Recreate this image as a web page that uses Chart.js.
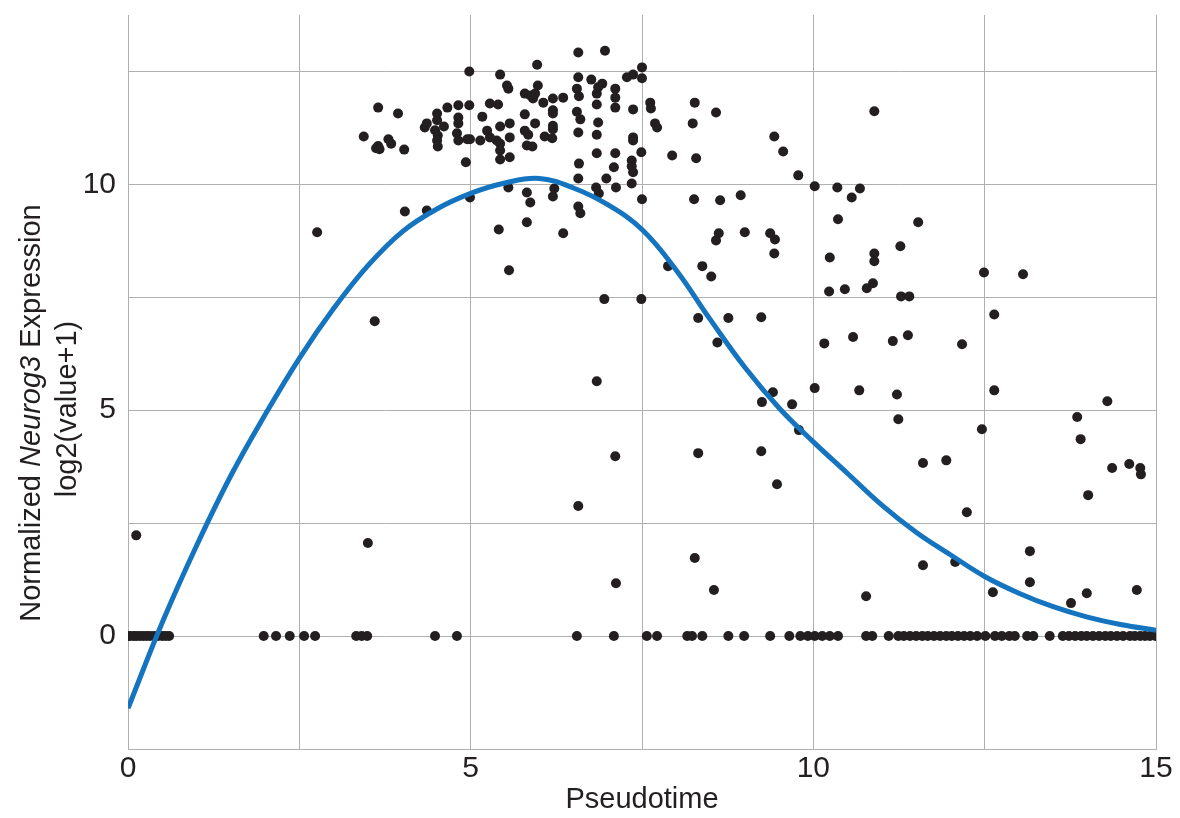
<!DOCTYPE html>
<html>
<head>
<meta charset="utf-8">
<script src="https://cdn.jsdelivr.net/npm/chart.js@4.4.1/dist/chart.umd.min.js"></script>
<style>
  html, body { margin: 0; padding: 0; background: #ffffff; }
  #wrap { width: 1180px; height: 818px; position: relative; }
</style>
</head>
<body>
<div id="wrap"><canvas id="c" width="1180" height="818"></canvas></div>
<script>
// ---- data ----
// cells with zero expression (y = 0), pseudotime values
const zeroX = [0, 0.03, 0.08, 0.12, 0.17, 0.22, 0.27, 0.32, 0.38, 0.44, 0.5, 0.55, 0.6,
  1.98, 2.16, 2.36, 2.57, 2.73, 3.33, 3.41, 3.49, 4.48, 4.80, 6.55, 7.09, 7.57, 7.72,
  8.16, 8.23, 8.38, 8.76, 8.99, 9.37, 9.65, 9.81, 9.92, 10.02, 10.13, 10.24, 10.36,
  10.77, 10.86, 11.10, 11.24, 11.32, 11.41, 11.50, 11.59, 11.67, 11.76, 11.85, 11.94,
  12.02, 12.11, 12.20, 12.29, 12.39, 12.51, 12.65, 12.75, 12.86, 12.94, 13.12, 13.21,
  13.45, 13.64, 13.73, 13.82, 13.91, 13.99, 14.08, 14.17, 14.26, 14.34, 14.43, 14.52,
  14.62, 14.69, 14.77, 14.84, 14.91, 14.99];

// cells with non-zero expression
const ptX = [0.12, 2.76, 3.5, 3.6, 3.44, 3.65, 3.94, 3.65, 3.62, 3.67, 3.80, 3.84, 4.03, 4.04, 4.36,
  4.36, 4.33, 4.51, 4.51, 4.48, 4.52, 4.51, 4.52, 4.61, 4.66, 4.82, 4.82, 4.82, 4.80, 4.82,
  4.93, 4.95, 4.99, 4.98, 4.98, 4.99, 5.14, 5.17, 5.24, 5.28, 5.38, 5.43, 5.28, 5.40, 5.43,
  5.53, 5.55, 5.43, 5.57, 5.57, 5.43, 5.43, 5.57, 5.41, 5.56, 5.55, 5.79, 5.87, 5.91, 5.94,
  5.97, 5.79, 5.79, 5.84, 5.82, 5.90, 5.94, 5.82, 5.87, 5.82, 5.98, 6.06, 6.20, 6.35, 6.20,
  6.20, 6.20, 6.20, 6.08, 6.19, 6.22, 6.20, 6.35, 6.57, 6.96, 6.57, 6.76, 6.92, 6.86, 6.55,
  6.58, 6.84, 7.11, 7.11, 7.11, 6.84, 6.55, 6.60, 6.86, 6.57, 6.84, 6.84, 7.11, 6.58, 7.09,
  6.57, 6.98, 6.83, 6.87, 7.12, 6.57, 6.60, 6.57, 6.84, 6.95, 7.11, 7.12, 7.50, 7.28, 7.37,
  7.50, 7.37, 7.62, 7.63, 7.69, 7.72, 7.37, 7.37, 7.49, 7.35, 7.35, 7.37, 7.35, 7.50, 7.49,
  7.94, 7.88, 8.27, 8.24, 8.58, 8.29, 8.26, 8.64, 8.94, 8.62, 8.58, 9.0, 8.38, 8.51, 8.32,
  8.76, 8.60, 8.27, 8.32, 8.55, 9.24, 9.37, 9.44, 9.43, 9.43, 9.56, 9.78, 9.41, 9.25, 9.69,
  9.24, 9.47, 9.79, 10.02, 10.35, 10.68, 10.56, 10.36, 10.89, 10.24, 10.89, 10.89, 10.23,
  10.46, 10.78, 10.87, 10.16, 10.58, 10.02, 10.67, 10.77, 11.27, 11.53, 11.28, 11.40, 11.38,
  11.16, 11.22, 11.24, 11.60, 11.94, 11.60, 12.07, 12.17, 12.24, 12.46, 12.49, 12.64, 12.64,
  12.62, 13.06, 13.16, 13.16, 13.76, 13.85, 13.90, 13.99, 14.01, 14.29, 14.36, 14.61, 14.77,
  14.78, 14.72];
const ptY = [2.23, 8.94, 2.06, 6.97, 11.06, 11.70, 11.57, 10.85, 10.80, 10.78, 11.0, 10.9, 10.77, 9.40, 9.42,
  11.35, 11.26, 11.57, 11.42, 11.2, 11.08, 10.97, 10.84, 11.28, 11.70, 11.75, 11.48, 11.35, 11.13, 10.97,
  10.49, 11.0, 11.0, 12.50, 11.75, 9.71, 10.97, 11.50, 11.19, 11.04, 10.97, 10.9, 11.79, 11.77, 12.43,
  12.19, 12.12, 11.28, 11.35, 11.04, 10.75, 10.55, 10.6, 9.0, 8.1, 9.93, 12.01, 11.97, 11.9, 12.01,
  12.65, 11.55, 11.19, 11.1, 10.86, 10.84, 11.35, 9.82, 9.6, 9.16, 12.19, 11.81, 11.90, 11.92, 11.64,
  11.57, 11.3, 11.22, 11.06, 11.02, 9.91, 9.73, 8.92, 12.92, 12.96, 12.37, 12.32, 12.23, 12.15, 12.12,
  11.95, 12.01, 12.12, 11.92, 11.70, 11.77, 11.61, 11.44, 11.37, 11.15, 11.10, 10.69, 10.69, 10.46, 10.38,
  10.13, 10.13, 9.93, 9.80, 9.93, 9.51, 9.36, 2.88, 5.64, 7.46, 3.98, 1.17, 12.59, 12.37, 12.43,
  12.35, 11.66, 11.81, 11.68, 11.35, 11.26, 11.04, 10.97, 10.71, 10.53, 10.4, 10.27, 10.02, 9.67, 7.46,
  10.64, 8.19, 11.81, 11.35, 11.59, 10.58, 9.67, 9.65, 9.76, 8.92, 8.76, 8.94, 8.19, 7.96, 7.04,
  7.04, 6.50, 1.73, 4.05, 1.02, 7.06, 8.92, 8.78, 8.47, 11.06, 10.73, 10.20, 5.40, 5.18, 5.13,
  4.09, 3.36, 4.56, 9.96, 9.93, 9.91, 9.71, 9.23, 11.62, 8.38, 8.47, 8.30, 7.63,
  7.68, 7.70, 7.81, 6.48, 6.62, 5.49, 5.44, 0.88, 8.63, 9.16, 7.52, 7.52, 6.66,
  6.53, 5.35, 4.80, 3.83, 3.89, 1.57, 1.64, 6.46, 2.74, 4.58, 8.05, 7.12, 5.44,
  0.97, 8.01, 1.88, 1.19, 0.73, 4.85, 4.36, 0.95, 3.12, 5.20, 3.72, 3.81, 3.72,
  3.58, 1.02];

// fitted trend curve
const curveX = [0, 0.5, 1, 1.5, 2, 2.5, 3, 3.5, 4, 4.5, 5, 5.5, 6, 6.5, 7, 7.5, 8, 8.5, 9, 9.5,
  10, 10.5, 11, 11.5, 12, 12.5, 13, 13.5, 14, 14.5, 15];
const curveY = [-1.6, 0.3, 2.0, 3.55, 4.9, 6.15, 7.25, 8.2, 8.95, 9.45, 9.8, 10.03, 10.13, 9.92, 9.55, 9.0,
  8.1, 7.0, 5.95, 5.05, 4.3, 3.6, 2.9, 2.3, 1.8, 1.32, 0.95, 0.65, 0.42, 0.25, 0.13];

// labelled ticks
const xTickLabels = [0, 5, 10, 15];
const yTickLabels = [0, 5, 10];

// ---- chart ----
const FONT = "'Liberation Sans', Arial, Helvetica, sans-serif";
const TEXT = '#231f20';
const GRID = '#b0b0b0';

const scatterData = zeroX.map(x => ({ x: x, y: 0 }))
  .concat(ptX.map((x, i) => ({ x: x, y: ptY[i] })));
const curveData = curveX.map((x, i) => ({ x: x, y: curveY[i] }));

const yTitlePlugin = {
  id: 'yTitle',
  afterDraw(chart) {
    const ctx = chart.ctx;
    ctx.save();
    ctx.fillStyle = TEXT;
    ctx.textBaseline = 'alphabetic';
    ctx.textAlign = 'left';
    const size = 29;
    const normal = size + 'px ' + FONT;
    const italic = 'italic ' + size + 'px ' + FONT;
    const parts = [['Normalized ', normal], ['Neurog3', italic], [' Expression', normal]];
    let w = 0;
    parts.forEach(p => { ctx.font = p[1]; w += ctx.measureText(p[0]).width; });
    ctx.translate(40, 413);
    ctx.rotate(-Math.PI / 2);
    let u = -w / 2;
    parts.forEach(p => { ctx.font = p[1]; ctx.fillText(p[0], u, 0); u += ctx.measureText(p[0]).width; });
    ctx.font = normal;
    const l2 = 'log2(value+1)';
    const w2 = ctx.measureText(l2).width;
    ctx.fillText(l2, 4 - w2 / 2, 36);
    ctx.restore();
  }
};

new Chart(document.getElementById('c'), {
  data: {
    datasets: [
      {
        type: 'line',
        label: 'trend',
        data: curveData,
        borderColor: '#1474bf',
        borderWidth: 5,
        pointRadius: 0,
        fill: false,
        tension: 0.4,
        order: 0
      },
      {
        type: 'scatter',
        label: 'cells',
        data: scatterData,
        backgroundColor: TEXT,
        borderWidth: 0,
        pointRadius: 5,
        order: 1
      }
    ]
  },
  options: {
    responsive: false,
    animation: false,
    events: [],
    layout: { padding: { left: 0, right: 24, top: 15, bottom: 0 } },
    plugins: { legend: { display: false }, tooltip: { enabled: false }, title: { display: false } },
    scales: {
      x: {
        type: 'linear',
        min: 0, max: 15,
        afterFit(s) { s.height = 69; s.paddingLeft = 0; s.paddingRight = 0; },
        ticks: {
          stepSize: 2.5,
          autoSkip: false,
          maxRotation: 0,
          padding: 2,
          color: TEXT,
          font: { family: FONT, size: 30 },
          callback: v => (xTickLabels.includes(v) ? String(v) : '')
        },
        grid: { color: GRID, lineWidth: 1, drawTicks: false },
        border: { color: GRID, width: 1 },
        title: {
          display: true, text: 'Pseudotime', color: TEXT,
          font: { family: FONT, size: 29 }, padding: { top: 0, bottom: 1 }
        }
      },
      y: {
        type: 'linear',
        min: -2.5, max: 13.75,
        afterFit(s) { s.width = 128; s.paddingTop = 0; s.paddingBottom = 0; },
        ticks: {
          stepSize: 2.5,
          autoSkip: false,
          padding: 12,
          color: TEXT,
          font: { family: FONT, size: 30 },
          callback: v => (yTickLabels.includes(v) ? String(v) : '')
        },
        grid: {
          color: ctx => (ctx.tick && ctx.tick.value > 13 ? 'rgba(0,0,0,0)' : GRID),
          lineWidth: 1, drawTicks: false
        },
        border: { color: GRID, width: 1 }
      }
    }
  },
  plugins: [yTitlePlugin]
});
</script>
</body>
</html>
